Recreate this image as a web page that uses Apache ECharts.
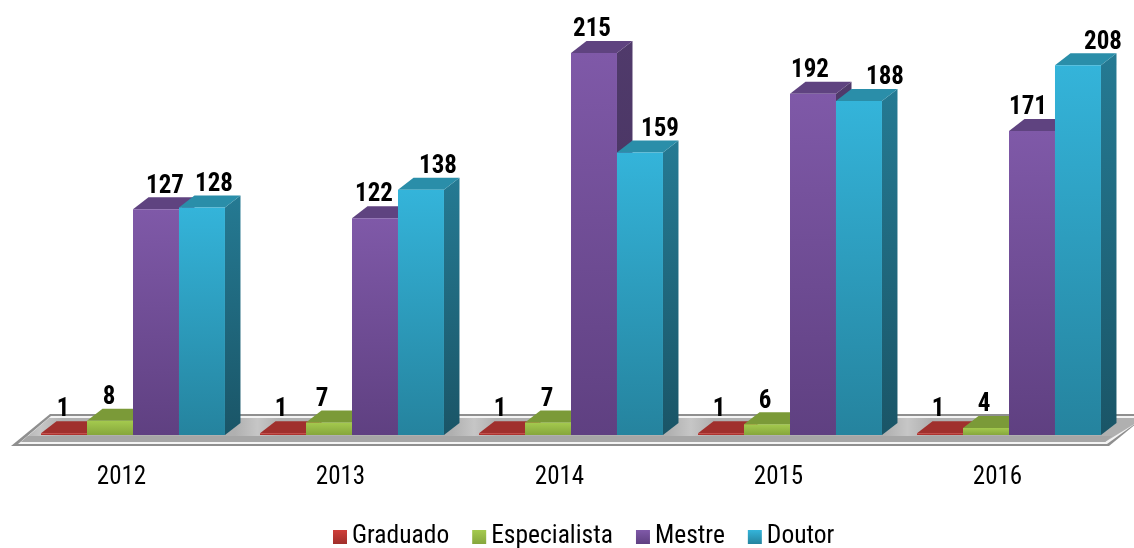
<!DOCTYPE html>
<html>
<head>
<meta charset="utf-8">
<style>html,body{margin:0;padding:0;background:#fff}#c{width:1134px;height:548px}</style>
<script src="https://cdn.jsdelivr.net/npm/echarts@6/dist/echarts.min.js"></script>
</head>
<body>
<div id="c"></div>
<script>
const years = ['2012','2013','2014','2015','2016'];
const graduado = [1,1,1,1,1];
const especialista = [8,7,7,6,4];
const mestre = [127,122,215,192,171];
const doutor = [128,138,159,188,208];

// hand-placed label nudges of the original chart (pixels, per year)
const nudgeGraduado = [-1,-2,-2,-2,-2];
const nudgeEspecialista = [-1,-7,-1,-2,-2];
const nudgeMestre = [9,-1,-2,-3,-4];
const nudgeDoutor = [12,17,20,26,25];

const FONT = '"Roboto Condensed","Liberation Sans",Arial,sans-serif';
const DX = 15.5, DY = 12, BAR_SHARE = 0.21, SHIFT = 11.5;
const G = (a,b) => new echarts.graphic.LinearGradient(0,0,0,1,[{offset:0,color:a},{offset:1,color:b}]);

const styles = [
  {name:'Graduado', values:graduado, nudge:nudgeGraduado, front:['#cf3f3a','#a02e2a'], top:'#a0302d', side:['#7e2522','#6a1e1c']},
  {name:'Especialista', values:especialista, nudge:nudgeEspecialista, front:['#a4ca4e','#86a63c'], top:'#7b9a38', side:['#688330','#5a7129']},
  {name:'Mestre', values:mestre, nudge:nudgeMestre, front:['#7f59a8','#5f4081'], top:'#5f4380', side:['#503a6b','#42305a']},
  {name:'Doutor', values:doutor, nudge:nudgeDoutor, front:['#34b4da','#25839e'], top:'#2a8ea9', side:['#257a93','#1a5567']}
];

function barRender(si){
  const st = styles[si];
  return function(params, api){
    const idx = api.value(0), v = api.value(1);
    const top = api.coord([idx, v]), base = api.coord([idx, 0]);
    const w = api.size([1,0])[0] * BAR_SHARE;
    const x = top[0] + SHIFT + (si-2)*w, y = top[1], b = base[1];
    return {type:'group', children:[
      {type:'polygon', shape:{points:[[x+w,y],[x+w+DX,y-DY],[x+w+DX,b-DY],[x+w,b]]}, style:{fill:G(st.side[0],st.side[1])}},
      {type:'polygon', shape:{points:[[x,y],[x+DX,y-DY],[x+w+DX,y-DY],[x+w,y]]}, style:{fill:st.top}},
      {type:'rect', shape:{x:x,y:y,width:w,height:b-y}, style:{fill:G(st.front[0],st.front[1])}},
      {type:'text', z2:100, style:{text:String(v), x:x+w/2+st.nudge[idx], y:y-DY-11, align:'center', verticalAlign:'middle',
        fill:'#000', font:'bold 25px '+FONT}}
    ]};
  };
}

function floorRender(params){
  const c = params.coordSys, L = c.x, R = c.x + c.width, B = c.y + c.height;
  const band = c.width / years.length;
  const stops = [];
  for (let i=0;i<years.length;i++){
    const p = (i*band + 20)/(c.width+40);
    stops.push({offset:Math.max(0,p-0.02),color:'#b0b0b0'});
    stops.push({offset:p,color:'#c6c6c6'});
    stops.push({offset:p+0.02,color:'#b0b0b0'});
  }
  stops.push({offset:1,color:'#b0b0b0'});
  const silver = new echarts.graphic.LinearGradient(0,0,1,0,stops);
  return {type:'group', children:[
    {type:'polygon', shape:{points:[[L-1,B+11],[L+38,B-21],[R+41,B-21],[R+2,B+11]]}, style:{fill:'#8f8f8f'}},
    {type:'polygon', shape:{points:[[L+6,B+9],[L+39,B-19],[R+39,B-19],[R,B+9]]}, style:{fill:'#f4f4f4'}},
    {type:'polygon', shape:{points:[[L+9,B+7],[L+37,B-17],[R+37,B-17],[R-2,B+7]]}, style:{fill:silver}},
    {type:'polygon', shape:{points:[[L+9,B+7],[L+16,B+1],[R+5,B+1],[R-2,B+7]]}, style:{fill:'#a6a6a6'}}
  ]};
}

const series = [{
  name:'piso', type:'custom', z:1, silent:true, data:[[0,0]], encode:{x:0,y:1}, renderItem:floorRender
}].concat(styles.map((s,i)=>({
  name:s.name, type:'custom', z:2, clip:false,
  itemStyle:{color:G(s.front[0],s.front[1])},
  data:s.values.map((v,k)=>[k,v]), encode:{x:0,y:1},
  renderItem:barRender(i)
})));

const chart = echarts.init(document.getElementById('c'), null, {renderer:'canvas'});
chart.setOption({
  animation:false,
  backgroundColor:'#ffffff',
  grid:{left:12, width:1095, top:8.5, height:426.5, containLabel:false},
  xAxis:{type:'category', data:years, axisLine:{show:false}, axisTick:{show:false},
    axisLabel:{color:'#000', fontFamily:FONT, fontSize:25, margin:30}},
  yAxis:{type:'value', min:0, max:240, show:false, splitLine:{show:false}},
  legend:{data:styles.map(s=>s.name), left:328, top:519, itemWidth:14, itemHeight:14, itemGap:23,
    icon:'rect', textStyle:{color:'#000', fontFamily:FONT, fontSize:25.5}},
  series:series
});
</script>
</body>
</html>
